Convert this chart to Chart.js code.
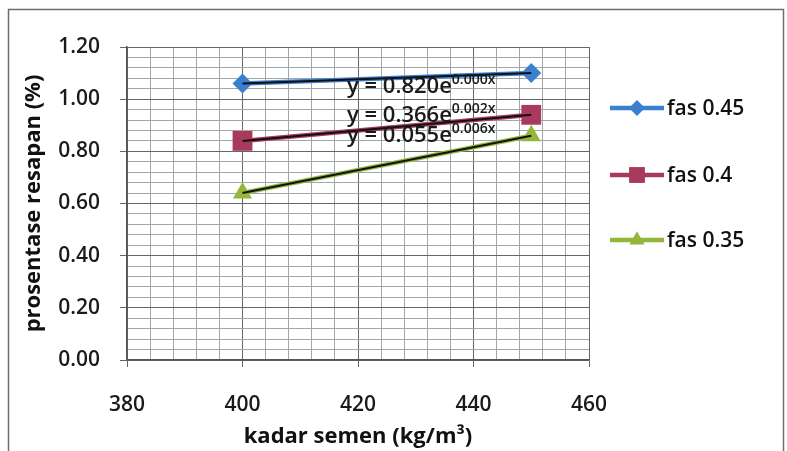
<!DOCTYPE html>
<html>
<head>
<meta charset="utf-8">
<script src="https://cdn.jsdelivr.net/npm/chart.js@4.4.1/dist/chart.umd.min.js"></script>
<style>
  html, body { margin: 0; padding: 0; background: #ffffff; }
  #wrap { width: 787px; height: 451px; }
</style>
</head>
<body>
<div id="wrap"><canvas id="c" width="787" height="451"></canvas></div>
<script>
// Cement content (kg/m3) and water absorption (%) for three w/c ratios
const kadarSemen = [400, 450];
const fas045 = [1.06, 1.10];
const fas040 = [0.84, 0.94];
const fas035 = [0.64, 0.86];

const seriesNames = ['fas 0.45', 'fas 0.4', 'fas 0.35'];
const seriesColors = ['#3b7fcf', '#a83a5c', '#93b63b'];
const seriesMarkers = ['rectRot', 'rect', 'triangle'];
const seriesRadius = [10, 14, 11];

// Exponential trendline equations: coefficient, exponent, label anchor (x, y in data units)
const trendCoef = ['0.820', '0.366', '0.055'];
const trendExp = ['0.000', '0.002', '0.006'];
const labelX = [418.1, 418.1, 418.1];
const labelY = [1.024, 0.912, 0.836];

const xTicks = [380, 400, 420, 440, 460];
const yTicks = [0.0, 0.2, 0.4, 0.6, 0.8, 1.0, 1.2];

const FONT = '"Open Sans", Lato, sans-serif';
const TEXT_WEIGHT = '600';

function pts(vals) { return kadarSemen.map((x, i) => ({ x: x, y: vals[i] })); }
const allValues = [fas045, fas040, fas035];

const datasets = [];
allValues.forEach((vals, i) => {
  // black trendline drawn on top
  datasets.push({
    label: 'trend ' + seriesNames[i],
    data: pts(vals),
    borderColor: '#111111',
    borderWidth: 2,
    pointRadius: 0,
    showLine: true,
    order: 0
  });
});
allValues.forEach((vals, i) => {
  datasets.push({
    label: seriesNames[i],
    data: pts(vals),
    borderColor: seriesColors[i],
    backgroundColor: seriesColors[i],
    borderWidth: 4.5,
    pointStyle: seriesMarkers[i],
    pointRadius: seriesRadius[i],
    pointBorderWidth: 0,
    pointBackgroundColor: seriesColors[i],
    showLine: true,
    order: 1
  });
});

function isMajor(v, step) {
  const r = v / step;
  return Math.abs(r - Math.round(r)) < 1e-6;
}

const framePlugin = {
  id: 'frame',
  beforeDraw(chart) {
    const ctx = chart.ctx;
    ctx.save();
    ctx.fillStyle = '#ffffff';
    ctx.fillRect(0, 0, chart.width, chart.height);
    ctx.strokeStyle = '#6e6e6e';
    ctx.lineWidth = 1.5;
    ctx.strokeRect(8.5, 9.5, 775, 460);
    ctx.restore();
  }
};

const equationPlugin = {
  id: 'equations',
  afterDatasetsDraw(chart) {
    const ctx = chart.ctx;
    const xs = chart.scales.x, ys = chart.scales.y;
    ctx.save();
    ctx.fillStyle = '#1a1a1a';
    ctx.textBaseline = 'alphabetic';
    ctx.textAlign = 'left';
    trendCoef.forEach((c, i) => {
      const px = xs.getPixelForValue(labelX[i]);
      const py = ys.getPixelForValue(labelY[i]);
      const main = 'y = ' + c + 'e';
      ctx.font = TEXT_WEIGHT + ' 22px ' + FONT;
      ctx.fillText(main, px, py);
      const w = ctx.measureText(main).width;
      ctx.font = TEXT_WEIGHT + ' 14px ' + FONT;
      ctx.fillText(trendExp[i] + 'x', px + w, py - 9);
    });
    ctx.restore();
  }
};

const legendPlugin = {
  id: 'sideLegend',
  afterDraw(chart) {
    const ctx = chart.ctx;
    const rowsY = [108, 175, 240];
    ctx.save();
    seriesNames.forEach((name, i) => {
      const y = rowsY[i];
      ctx.strokeStyle = seriesColors[i];
      ctx.lineWidth = 4.5;
      ctx.beginPath();
      ctx.moveTo(610, y);
      ctx.lineTo(664, y);
      ctx.stroke();
      ctx.fillStyle = seriesColors[i];
      Chart.helpers.drawPoint(ctx, {
        pointStyle: seriesMarkers[i],
        radius: seriesRadius[i] * 0.8,
        rotation: 0,
        borderWidth: 0
      }, 637, y);
      ctx.fillStyle = '#111111';
      ctx.font = TEXT_WEIGHT + ' 21px ' + FONT;
      ctx.textBaseline = 'middle';
      ctx.textAlign = 'left';
      ctx.fillText(name, 667, y + 1);
    });
    ctx.restore();
  }
};

new Chart(document.getElementById('c'), {
  type: 'scatter',
  data: { datasets: datasets },
  plugins: [framePlugin, equationPlugin, legendPlugin],
  options: {
    responsive: false,
    animation: false,
    events: [],
    layout: { padding: { left: 0, right: 198, top: 47, bottom: 0 } },
    plugins: {
      legend: { display: false },
      tooltip: { enabled: false }
    },
    scales: {
      x: {
        type: 'linear',
        min: xTicks[0],
        max: xTicks[xTicks.length - 1],
        afterFit(scale) { scale.height = 91; },
        afterBuildTicks(scale) {
          const t = [];
          for (let v = xTicks[0]; v <= xTicks[xTicks.length - 1] + 1e-9; v += 4) t.push({ value: v });
          scale.ticks = t;
        },
        ticks: {
          autoSkip: false,
          maxRotation: 0,
          padding: 25,
          color: '#1a1a1a',
          font: { family: FONT, size: 21, weight: TEXT_WEIGHT },
          callback(v) { return xTicks.includes(v) ? String(v) : ''; }
        },
        grid: {
          drawTicks: true,
          tickLength: 7,
          lineWidth: 1,
          color(ctx) { return isMajor(ctx.tick.value, 20) ? '#666666' : '#9fa6ac'; },
          tickColor(ctx) { return isMajor(ctx.tick.value, 20) ? '#666666' : 'rgba(0,0,0,0)'; }
        },
        border: { color: '#555555', width: 1.5 },
        title: {
          display: true,
          text: 'kadar semen (kg/m³)',
          color: '#111111',
          font: { family: FONT, size: 22, weight: 'bold' },
          padding: { top: 0, bottom: 1 }
        }
      },
      y: {
        type: 'linear',
        min: yTicks[0],
        max: yTicks[yTicks.length - 1],
        afterFit(scale) { scale.width = 127; },
        afterBuildTicks(scale) {
          const t = [];
          for (let k = 0; k <= 30; k++) t.push({ value: Math.round(k * 4) / 100 });
          scale.ticks = t;
        },
        ticks: {
          autoSkip: false,
          padding: 20,
          color: '#1a1a1a',
          font: { family: FONT, size: 21, weight: TEXT_WEIGHT },
          callback(v) { return isMajor(v, 0.2) ? v.toFixed(2) : ''; }
        },
        grid: {
          drawTicks: true,
          tickLength: 7,
          lineWidth: 1,
          color(ctx) { return isMajor(ctx.tick.value, 0.2) ? '#666666' : '#9fa6ac'; },
          tickColor(ctx) { return isMajor(ctx.tick.value, 0.2) ? '#666666' : 'rgba(0,0,0,0)'; }
        },
        border: { color: '#555555', width: 1.5 },
        title: {
          display: true,
          text: 'prosentase resapan (%)',
          color: '#111111',
          font: { family: FONT, size: 22, weight: 'bold' },
          padding: { top: 21, bottom: 0 }
        }
      }
    }
  }
});
</script>
</body>
</html>
